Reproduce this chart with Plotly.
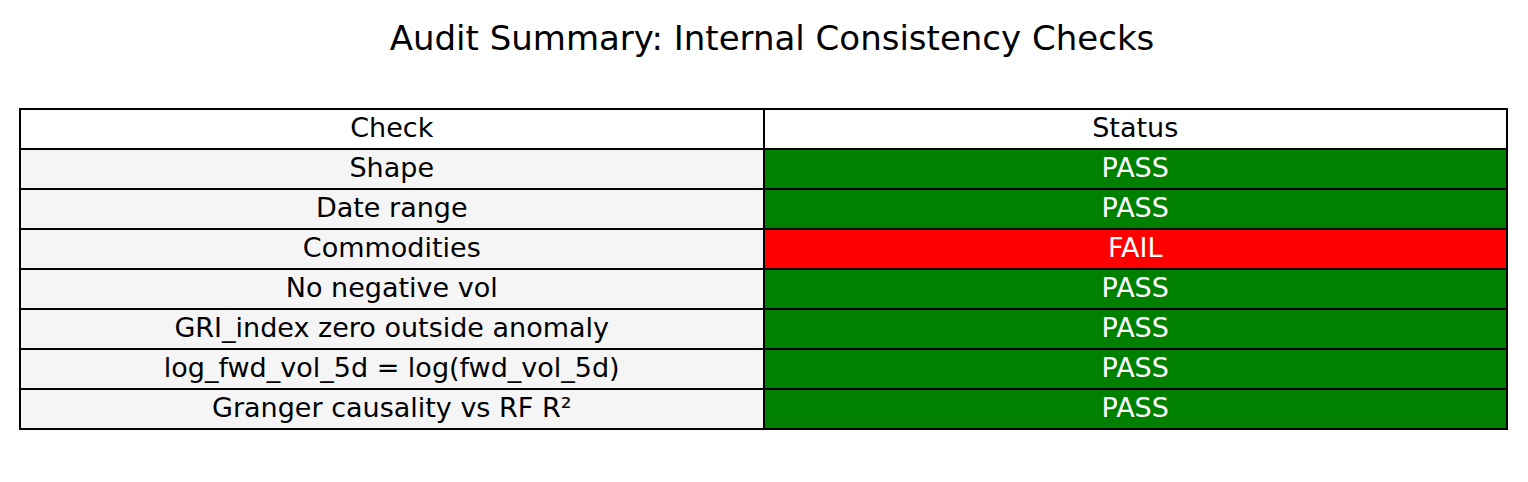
import plotly.graph_objects as go

headers = ["Check", "Status"]
checks = ["Shape", "Date range", "Commodities", "No negative vol",
          "GRI_index zero outside anomaly", "log_fwd_vol_5d = log(fwd_vol_5d)",
          "Granger causality vs RF R²"]
statuses = ["PASS", "PASS", "FAIL", "PASS", "PASS", "PASS", "PASS"]

status_colors = ["#008000" if s == "PASS" else "#ff0000" for s in statuses]

fig = go.Figure(go.Table(
    domain=dict(x=[12 / 1528, 1500 / 1528], y=[0.0, 1 - 101 / 482]),
    columnwidth=[1, 1],
    header=dict(values=headers, height=40, align="center",
                fill_color="white", line=dict(color="black", width=2),
                font=dict(family="DejaVu Sans", size=27, color="black")),
    cells=dict(values=[checks, statuses], height=40, align="center",
               fill_color=[["#f5f5f5"] * len(checks), status_colors],
               line=dict(color="black", width=2),
               font=dict(family="DejaVu Sans", size=27,
                         color=[["black"] * len(checks), ["white"] * len(statuses)])),
))

fig.update_layout(
    width=1528, height=482,
    margin=dict(l=0, r=0, t=0, b=0),
    paper_bgcolor="white",
    title=dict(text="Audit Summary: Internal Consistency Checks",
               x=0.5, xanchor="center", y=1 - 30 / 482, yanchor="middle",
               font=dict(family="DejaVu Sans", size=34, color="black")),
)

fig.write_html("out.html")
